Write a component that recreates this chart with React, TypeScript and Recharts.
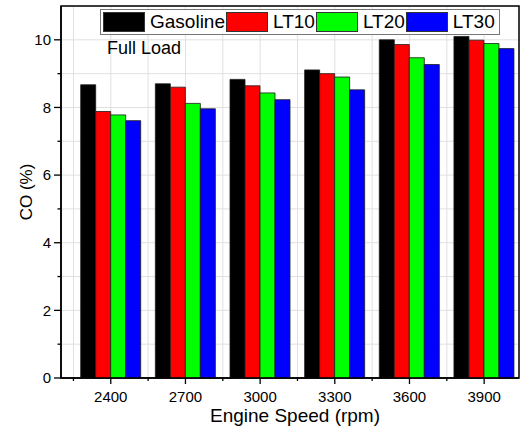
import React from "react"
import { BarChart, Bar, XAxis, YAxis, CartesianGrid, Legend, ReferenceArea } from "recharts"

// engine speed (rpm) and CO (%) readings at full load
const speeds = [2400, 2700, 3000, 3300, 3600, 3900]
const gasoline = [8.67, 8.7, 8.83, 9.11, 10.0, 10.1]
const lt10 = [7.88, 8.6, 8.64, 9.0, 9.86, 9.99]
const lt20 = [7.78, 8.12, 8.43, 8.9, 9.47, 9.89]
const lt30 = [7.61, 7.96, 8.23, 8.52, 9.27, 9.74]

const speedTicks = [2250, 2400, 2550, 2700, 2850, 3000, 3150, 3300, 3450, 3600, 3750, 3900]
const speedDomain = [2200, 4040]
const coTicks = [0, 1, 2, 3, 4, 5, 6, 7, 8, 9, 10]
const coDomain = [0, 11]

const series = [
  { key: "gasoline", name: "Gasoline", color: "#000000" },
  { key: "lt10", name: "LT10", color: "#ff0000" },
  { key: "lt20", name: "LT20", color: "#00ff00" },
  { key: "lt30", name: "LT30", color: "#0000ff" },
]

const data = speeds.map((s, i) => ({
  speed: s,
  gasoline: gasoline[i],
  lt10: lt10[i],
  lt20: lt20[i],
  lt30: lt30[i],
}))

const FONT = "'Liberation Sans', Arial, sans-serif"

const YTick = (props: any) => {
  const { x, y, payload } = props
  const major = payload.value % 2 === 0
  return (
    <g>
      <line x1={x} x2={x - (major ? 7 : 3.5)} y1={y} y2={y} stroke="#000" strokeWidth={1.3} />
      {major && (
        <text x={x - 10} y={y} dy={5.3} textAnchor="end" fontSize={15} fill="#000">
          {payload.value}
        </text>
      )}
    </g>
  )
}

const XTick = (props: any) => {
  const { x, y, payload } = props
  const major = speeds.includes(payload.value)
  return (
    <g>
      <line x1={x} x2={x} y1={y} y2={y + (major ? 6 : 3)} stroke="#000" strokeWidth={1.3} />
      {major && (
        <text x={x} y={y + 24} textAnchor="middle" fontSize={15} fill="#000">
          {payload.value}
        </text>
      )}
    </g>
  )
}

const LegendBox = (props: any) => {
  const { payload } = props
  return (
    <div
      style={{
        display: "flex",
        alignItems: "center",
        border: "1px solid #777",
        background: "#fff",
        padding: "2px 3px 2px 2px",
        fontFamily: FONT,
      }}
    >
      {(payload || []).map((p: any) => (
        <div key={p.value} style={{ display: "flex", alignItems: "center" }}>
          <div
            style={{
              width: 42,
              height: 20,
              boxSizing: "border-box",
              background: p.color,
              border: "1px solid #333",
            }}
          />
          <span style={{ fontSize: 19, lineHeight: "20px", marginLeft: 5, marginRight: 1, color: "#000" }}>
            {p.value}
          </span>
        </div>
      ))}
    </div>
  )
}

export default function App() {
  return (
    <div style={{ position: "absolute", left: 0, top: 0, width: 522, height: 430, fontFamily: FONT, background: "#fff" }}>
      <BarChart
        width={522}
        height={430}
        data={data}
        barGap={0}
        margin={{ top: 6, right: 3, left: 0, bottom: 0 }}
      >
        <CartesianGrid xAxisId="num" stroke="#e0e0e0" />
        <XAxis
          xAxisId="num"
          dataKey="speed"
          type="number"
          domain={speedDomain}
          ticks={speedTicks}
          allowDataOverflow
          interval={0}
          height={52}
          tickSize={0}
          tickMargin={0}
          tickLine={false}
          tick={<XTick />}
          axisLine={{ stroke: "#000", strokeWidth: 1.5 }}
          label={{ value: "Engine Speed (rpm)", position: "insideBottom", offset: 8, dx: 5, fontSize: 19, fill: "#000" }}
        />
        <XAxis
          xAxisId="cat"
          dataKey="speed"
          type="category"
          hide
          height={0}
          padding={{ left: 12.7, right: -2.6 }}
        />
        <YAxis
          domain={coDomain}
          ticks={coTicks}
          interval={0}
          width={61}
          tickSize={0}
          tickMargin={0}
          tickLine={false}
          tick={<YTick />}
          axisLine={{ stroke: "#000", strokeWidth: 1.5 }}
          label={{
            value: "CO (%)",
            angle: -90,
            position: "insideLeft",
            offset: 26,
            fontSize: 17,
            fill: "#000",
            style: { textAnchor: "middle" },
          }}
        />
        {series.map((s) => (
          <Bar
            key={s.key}
            xAxisId="cat"
            dataKey={s.key}
            name={s.name}
            fill={s.color}
            stroke="#1a1a1a"
            strokeWidth={0.8}
            barSize={15}
            isAnimationActive={false}
          />
        ))}
        <ReferenceArea
          xAxisId="num"
          x1={speedDomain[0]}
          x2={speedDomain[1]}
          y1={coDomain[0]}
          y2={coDomain[1]}
          fill="none"
          stroke="#000"
          strokeWidth={1.5}
          ifOverflow="visible"
        />
        <Legend
          layout="horizontal"
          verticalAlign="middle"
          align="center"
          content={<LegendBox />}
          wrapperStyle={{ top: 9, left: 100, width: "auto" }}
        />
      </BarChart>
      <div
        style={{
          position: "absolute",
          left: 107,
          top: 39,
          fontSize: 18,
          lineHeight: "18px",
          color: "#000",
          pointerEvents: "none",
        }}
      >
        Full Load
      </div>
    </div>
  )
}
